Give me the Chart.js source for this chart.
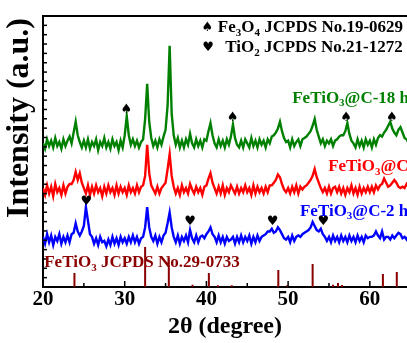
<!DOCTYPE html>
<html>
<head>
<meta charset="utf-8">
<script src="https://cdn.jsdelivr.net/npm/chart.js@4.4.0/dist/chart.umd.min.js"></script>
<style>
html, body { margin: 0; padding: 0; background: #fff; }
canvas { display: block; }
</style>
</head>
<body>
<canvas id="xrd" width="407" height="343"></canvas>
<script>
// 2theta from 20 to 65 deg, 0.25 deg steps (181 points)
const twoThetaStart = 20, twoThetaStep = 0.25;

// FeTiO3@C-18 h (green, top trace)
const c18h = [
  53,51,54.5,52,54,51.5,55,52,53.5,51,54.5,52,54,55.5,53,57,61,56,53.5,51.5,
  54,51.5,54.5,51,53.5,52,54.5,50.5,53.5,52,55,51.5,53.5,51,54.5,52,53.5,50.5,54,51.5,
  56,63,56,52.5,54.5,52,54,51.5,53.5,54.5,62,75,61,55,52,54,51.5,54.5,52.5,55.5,
  58,67,89,64,56,52.5,55,51.5,54,51.5,54.5,52.5,56.5,53,51.5,54.5,52,54,51.5,54.5,
  54,57.5,60.5,56,53,51.5,54.5,52,54,51.5,54.5,52.5,55.5,60,55,52.5,51.5,54,51.5,54.5,
  53,51.5,55,52,54,51.5,54.5,52.5,54,51.5,54.5,53,55.5,56,57,58.5,61,57.5,55,53.5,
  54,51.5,54.5,52,53.5,54.5,52,54.5,55,55.5,56.5,57.5,59.5,62,58,55.5,53,54.5,52,54,
  53,54.5,52,54,54.5,55.5,56,56,57.5,60.5,56.5,54,53,51.5,54.5,52,54,51.5,54.5,52.5,
  54,51.5,54.5,52.5,55,56,55.5,57,58,59.5,61,58.5,57,56,58,59,57,55,54.5,53,
  53
];

// FeTiO3@C (red, middle trace)
const cMid = [
  36.5,34,37.5,34.5,37,33.5,38,35,36.5,34,37.5,34.5,37,38,38,39.5,42.5,39.5,42,38.5,
  36.5,34.5,37.5,34,37,34.5,37.5,35,36.5,33.5,37,34.5,37.5,35,36.5,34,37.5,34.5,37,35,
  36.5,34,37.5,35,36.5,34.5,37.5,35,37,37.5,41,52.5,42,37.5,36,34.5,37,34.5,36.5,37.5,
  38.5,43.5,49,41,37,34.5,36.5,34,37.5,35,36.5,34.5,38,36,34.5,37,35,36.5,34,37,
  37.5,40,42,38.5,36.5,34.5,37,34.5,37.5,34,36.5,35,37.5,36,34.5,37,34.5,36.5,35,37.5,
  35,36.5,34,37.5,34.5,37,35,36.5,34.5,37,35,37.5,37.5,38.5,39.5,41.5,40.5,38,36,35,
  36.5,34.5,37,35,37.5,34.5,37,36,37,37.5,38.5,39.5,41,43.5,40.5,38.5,36.5,35,36.5,34.5,
  37,34.5,36.5,37,35,37,34.5,36.5,34,36.5,35,37.5,34.5,36.5,34,37,34.5,36.5,35,37,
  35,37,35,37.5,36,37.5,38,40,38.5,37,37.5,38.5,39.5,38.5,37,36.5,37,36.5,38,37,
  36
];

// FeTiO3@C-2 h (blue, bottom trace)
const c2h = [
  18.5,16,19.5,16.5,19,15.5,18.5,17,19.5,16,18.5,16.5,19,16.5,19.5,20,23.5,20.5,19,20.5,
  22.5,29.5,24.5,19.5,18.5,16,18,15.5,18.5,16.5,17,15,17.5,15.5,18.5,16,18,15.5,18.5,16.5,
  18,16,18.5,16.5,19,16.5,18.5,16,18,18.5,22,29.5,22,18.5,17,19,16,18.5,16.5,19,
  20,23.5,27.5,22,18.5,16.5,19,16,18.5,17,19,16.5,21,18,16.5,19,16.5,18.5,19,18,
  19.5,20.5,22,19.5,18.5,16.5,19,16.5,18.5,16,18.5,17,17.5,18.5,16,18.5,16.5,19,16.5,18.5,
  17,19,16,18.5,16.5,19,17,18.5,19,19.5,20.5,20.5,21.5,20,20.5,22,21,19.5,18,17.5,
  18.5,16.5,19,17,18.5,19,18.5,19.5,20,20.5,21,22,24,22.5,21,20.5,21.5,19.5,18.5,17,
  18.5,16.5,19,17,18.5,16.5,19,17,18.5,16.5,19,17,18.5,16.5,19,17,18.5,16.5,19,18,
  18.5,18.5,19,20.5,19,18,20.5,17.5,18.5,18.5,17.5,19,18,19,20,19.5,18,18.5,17.5,19,
  18
];

// FeTiO3 JCPDS No.29-0733 reference lines
const refPos = [23.85, 32.5, 35.4, 38.3, 40.3, 41.4, 43.1, 48.8, 49.9, 53.0, 55.5, 56.1, 56.6, 61.6, 63.3];
const refH   = [5.2, 14.8, 11, 0.8, 5.2, 0.6, 0.6, 6.3, 0.6, 8.5, 0.8, 1.5, 0.7, 4.8, 5.5];

// peak markers (position, height of the symbol)
const spadePos = [30.2, 43.2, 57.1, 62.7];
const spadeY   = [65.3, 62.4, 62.4, 62.4];
const heartPos = [25.3, 38.0, 48.1, 54.3];
const heartY   = [31.4, 24, 24, 24];

const xTicks = [20, 25, 30, 35, 40, 45, 50, 55, 60];

const GREEN = '#008000', RED = '#ff0000', BLUE = '#0000ff', DARKRED = '#8b0000';
const SERIF = '"Liberation Serif", "Times New Roman", serif';

const toXY = arr => arr.map((v, i) => ({ x: twoThetaStart + i * twoThetaStep, y: v }));

const sticks = [];
refPos.forEach((p, i) => {
  sticks.push({ x: p, y: 0 }, { x: p, y: refH[i] }, { x: p, y: null });
});

function richText(ctx, x, y, parts, size, color) {
  ctx.save();
  ctx.fillStyle = color;
  ctx.textBaseline = 'middle';
  ctx.textAlign = 'left';
  for (const [t, sub] of parts) {
    const fs = sub ? Math.round(size * 0.62) : size;
    ctx.font = 'bold ' + fs + 'px ' + SERIF;
    ctx.fillText(t, x, sub ? y + size * 0.32 : y);
    x += ctx.measureText(t).width;
  }
  ctx.restore();
}

const decor = {
  id: 'decor',
  afterDraw(chart) {
    const { ctx, chartArea: a, scales: { x, y } } = chart;
    ctx.save();
    ctx.strokeStyle = '#000';
    ctx.lineWidth = 2;
    // top frame line
    ctx.beginPath();
    ctx.moveTo(a.left, a.top);
    ctx.lineTo(a.right, a.top);
    ctx.stroke();
    // inward ticks
    ctx.lineWidth = 1.5;
    xTicks.forEach(v => {
      const px = x.getPixelForValue(v);
      const len = v % 10 === 0 ? 6 : 4;
      ctx.beginPath();
      ctx.moveTo(px, a.bottom);
      ctx.lineTo(px, a.bottom - len);
      ctx.stroke();
    });
    for (let v = 100 / 29; v < 100; v += 100 / 29) {
      const py = y.getPixelForValue(v);
      ctx.beginPath();
      ctx.moveTo(a.left, py);
      ctx.lineTo(a.left + 4, py);
      ctx.stroke();
    }
    ctx.restore();

    // peak markers
    ctx.save();
    ctx.fillStyle = '#000';
    ctx.textAlign = 'center';
    ctx.textBaseline = 'middle';
    ctx.font = '13px "DejaVu Sans"';
    spadePos.forEach((p, i) => ctx.fillText('\u2660', x.getPixelForValue(p), y.getPixelForValue(spadeY[i])));
    heartPos.forEach((p, i) => ctx.fillText('\u2665', x.getPixelForValue(p), y.getPixelForValue(heartY[i])));
    // legend symbols
    ctx.fillText('\u2660', x.getPixelForValue(40.1), y.getPixelForValue(95.6));
    ctx.fillText('\u2665', x.getPixelForValue(40.2), y.getPixelForValue(88.2));
    ctx.restore();

    richText(ctx, x.getPixelForValue(41.4), y.getPixelForValue(95.6),
      [['Fe'], ['3', 1], ['O'], ['4', 1], [' JCPDS No.19-0629']], 17, '#000');
    richText(ctx, x.getPixelForValue(42.3), y.getPixelForValue(88.2),
      [['TiO'], ['2', 1], [' JCPDS No.21-1272']], 17, '#000');
    richText(ctx, x.getPixelForValue(50.5), y.getPixelForValue(69.7),
      [['FeTiO'], ['3', 1], ['@C-18 h']], 17, GREEN);
    richText(ctx, x.getPixelForValue(54.9), y.getPixelForValue(44.3),
      [['FeTiO'], ['3', 1], ['@C-8 h']], 17, RED);
    richText(ctx, x.getPixelForValue(51.45), y.getPixelForValue(28.0),
      [['FeTiO'], ['3', 1], ['@C-2 h']], 17, BLUE);
    richText(ctx, x.getPixelForValue(20.15), y.getPixelForValue(8.9),
      [['FeTiO'], ['3', 1], [' JCPDS No.29-0733']], 17, DARKRED);

    // y axis title
    ctx.save();
    ctx.translate(20, 118);
    ctx.rotate(-Math.PI / 2);
    ctx.fillStyle = '#000';
    ctx.font = 'bold 32px ' + SERIF;
    ctx.textAlign = 'center';
    ctx.textBaseline = 'middle';
    ctx.fillText('Intensity (a.u.)', 0, 0);
    ctx.restore();
  }
};

new Chart(document.getElementById('xrd'), {
  type: 'line',
  data: {
    datasets: [
      { data: toXY(c18h), borderColor: GREEN, borderWidth: 2.4 },
      { data: toXY(cMid), borderColor: RED, borderWidth: 2.4 },
      { data: toXY(c2h), borderColor: BLUE, borderWidth: 2.4 },
      { data: sticks, borderColor: DARKRED, borderWidth: 2, spanGaps: false }
    ]
  },
  options: {
    responsive: false,
    animation: false,
    devicePixelRatio: 1,
    elements: { point: { radius: 0 }, line: { tension: 0 } },
    layout: { padding: { left: 43, top: 16, right: 0, bottom: 0 } },
    plugins: { legend: { display: false }, tooltip: { enabled: false } },
    scales: {
      x: {
        type: 'linear',
        min: 20,
        max: 64.55,
        afterBuildTicks: s => { s.ticks = xTicks.map(v => ({ value: v })); },
        afterFit: s => { s.height = 56; },
        grid: { display: false, drawTicks: false },
        border: { display: true, color: '#000', width: 2 },
        ticks: {
          color: '#000',
          padding: 0,
          font: { family: SERIF, size: 21, weight: 'bold' },
          callback: v => (v % 10 === 0 ? String(v) : '')
        },
        title: {
          display: true,
          text: '2\u03b8 (degree)',
          color: '#000',
          padding: { top: 0, bottom: 2 },
          font: { family: SERIF, size: 24, weight: 'bold' }
        }
      },
      y: {
        min: 0,
        max: 100,
        grid: { display: false, drawTicks: false },
        border: { display: true, color: '#000', width: 2 },
        ticks: { display: false }
      }
    }
  },
  plugins: [decor]
});
</script>
</body>
</html>
